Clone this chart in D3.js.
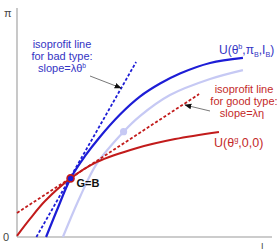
<!DOCTYPE html>
<html>
<head>
<meta charset="utf-8">
<script src="https://cdn.jsdelivr.net/npm/d3@7"></script>
<style>
  body { margin: 0; background: #fff; }
  svg { display: block; font-family: "Liberation Sans", Arial, sans-serif; }
</style>
</head>
<body>
<svg id="chart" width="277" height="251"></svg>
<script>
// values, in chart units (0..100 on both axes)
const goodCurveX = [0, 5.1, 11.0, 21.0, 31.4, 47.1, 62.0, 79.2];
const goodCurveY = [0.5, 7.9, 15.7, 25.6, 32.8, 38.9, 42.8, 45.9];

const badCurveX = [11.4, 16.1, 21.0, 26.7, 32.5, 40.4, 48.2, 56.1, 63.9, 75.7, 88.6];
const badCurveY = [0, 12.9, 25.6, 35.4, 43.7, 53.5, 61.3, 67.0, 71.4, 76.0, 78.2];

const paleCurveX = [18.0, 24.7, 31.3, 41.8, 48.2, 60.0, 75.7, 88.6];
const paleCurveY = [0, 17.5, 32.0, 46.0, 52.8, 62.0, 69.0, 72.9];

const badIsoX = [7.6, 46.7];
const badIsoY = [0, 76.4];
const goodIsoX = [0, 71.4];
const goodIsoY = [10.5, 62.4];

const pointGB = [21.0, 25.6];
const palePoint = [41.8, 46.0];

const badNote = ['isoprofit line', 'for bad type:'];
const goodNote = ['isoprofit line', 'for good type:'];

const blue = '#1d1dd6', paleBlue = '#c6c9f4', red = '#c21b1b';
const blueText = '#3434c4', redText = '#c42a2a';

const svg = d3.select('#chart');
const x = d3.scaleLinear().domain([0, 100]).range([17, 272]);
const y = d3.scaleLinear().domain([0, 100]).range([237, 8]);

const zip = (xs, ys) => xs.map((v, i) => [v, ys[i]]);
const line = d3.line()
    .x(d => x(d[0]))
    .y(d => y(d[1]))
    .curve(d3.curveCatmullRom.alpha(0.5));
const straight = d3.line().x(d => x(d[0])).y(d => y(d[1]));

// arrow head
svg.append('defs').append('marker')
    .attr('id', 'arrow')
    .attr('viewBox', '0 0 10 10')
    .attr('refX', 9).attr('refY', 5)
    .attr('markerWidth', 7).attr('markerHeight', 7)
    .attr('markerUnits', 'userSpaceOnUse')
    .attr('orient', 'auto')
    .append('path')
    .attr('d', 'M0,1 L10,5 L0,9 Z')
    .attr('fill', '#111');

// axes
svg.append('line')
    .attr('x1', x(0)).attr('x2', x(0))
    .attr('y1', y(0)).attr('y2', y(100))
    .attr('stroke', '#bbb').attr('stroke-width', 1.6);
svg.append('line')
    .attr('x1', x(0)).attr('x2', x(100))
    .attr('y1', y(0)).attr('y2', y(0))
    .attr('stroke', '#bbb').attr('stroke-width', 1.6);

svg.append('text').attr('x', 4).attr('y', 17).attr('font-size', 11).attr('fill', '#444').text('π');
svg.append('text').attr('x', 3).attr('y', 241).attr('font-size', 11).attr('fill', '#444').text('0');
svg.append('text').attr('x', 261).attr('y', 249).attr('font-size', 9).attr('fill', '#444').text('I');

// curves
svg.append('path')
    .attr('d', line(zip(paleCurveX, paleCurveY)))
    .attr('fill', 'none').attr('stroke', paleBlue).attr('stroke-width', 2.2);
svg.append('path')
    .attr('d', line(zip(goodCurveX, goodCurveY)))
    .attr('fill', 'none').attr('stroke', red).attr('stroke-width', 2);
svg.append('path')
    .attr('d', line(zip(badCurveX, badCurveY)))
    .attr('fill', 'none').attr('stroke', blue).attr('stroke-width', 2.2);

// isoprofit lines
svg.append('path')
    .attr('d', straight(zip(goodIsoX, goodIsoY)))
    .attr('stroke', red).attr('stroke-width', 1.8)
    .attr('stroke-dasharray', '3,2');
svg.append('path')
    .attr('d', straight(zip(badIsoX, badIsoY)))
    .attr('stroke', blue).attr('stroke-width', 1.8)
    .attr('stroke-dasharray', '3,2');

// points
svg.append('circle')
    .attr('cx', x(palePoint[0])).attr('cy', y(palePoint[1]))
    .attr('r', 3.6).attr('fill', paleBlue);
svg.append('circle')
    .attr('cx', x(pointGB[0])).attr('cy', y(pointGB[1]))
    .attr('r', 3.5).attr('fill', blue)
    .attr('stroke', red).attr('stroke-width', 1.6);

svg.append('text')
    .attr('x', x(pointGB[0]) + 6).attr('y', y(pointGB[1]) + 9)
    .attr('font-size', 11).attr('font-weight', 'bold').attr('fill', '#111')
    .text('G=B');

// text with sup / sub parts
const richText = (sel, parts, size) => {
    let shift = 0;
    parts.forEach(p => {
        let target = p[1] === 'sup' ? -size * 0.4 : p[1] === 'sub' ? size * 0.25 : 0;
        sel.append('tspan')
            .attr('dy', target - shift)
            .attr('font-size', p[1] ? size * 0.6 : size)
            .text(p[0]);
        shift = target;
    });
};

// note for bad type
badNote.forEach((t, i) => {
    svg.append('text')
        .attr('x', 62).attr('y', 48 + i * 12)
        .attr('text-anchor', 'middle').attr('font-size', 11).attr('fill', blueText)
        .text(t);
});
richText(svg.append('text')
    .attr('x', 62).attr('y', 72)
    .attr('text-anchor', 'middle').attr('fill', blueText),
    [['slope=λθ'], ['b', 'sup']], 11);

// note for good type
goodNote.forEach((t, i) => {
    svg.append('text')
        .attr('x', 244).attr('y', 93 + i * 12)
        .attr('text-anchor', 'middle').attr('font-size', 11).attr('fill', redText)
        .text(t);
});
svg.append('text')
    .attr('x', 242).attr('y', 117)
    .attr('text-anchor', 'middle').attr('font-size', 11).attr('fill', redText)
    .text('slope=λη');

// arrows
svg.append('line')
    .attr('x1', 90).attr('y1', 76).attr('x2', 121).attr('y2', 88)
    .attr('stroke', '#555').attr('stroke-width', 0.8)
    .attr('marker-end', 'url(#arrow)');
svg.append('line')
    .attr('x1', 210).attr('y1', 111).attr('x2', 185).attr('y2', 105)
    .attr('stroke', '#555').attr('stroke-width', 0.8)
    .attr('marker-end', 'url(#arrow)');

// curve labels
richText(svg.append('text')
    .attr('x', 219).attr('y', 54).attr('fill', blueText),
    [['U(θ'], ['b', 'sup'], [',π'], ['B', 'sub'], [',I'], ['B', 'sub'], [')']], 12);
richText(svg.append('text')
    .attr('x', 214).attr('y', 147).attr('fill', redText),
    [['U(θ'], ['g', 'sup'], [',0,0)']], 12.5);
</script>
</body>
</html>
